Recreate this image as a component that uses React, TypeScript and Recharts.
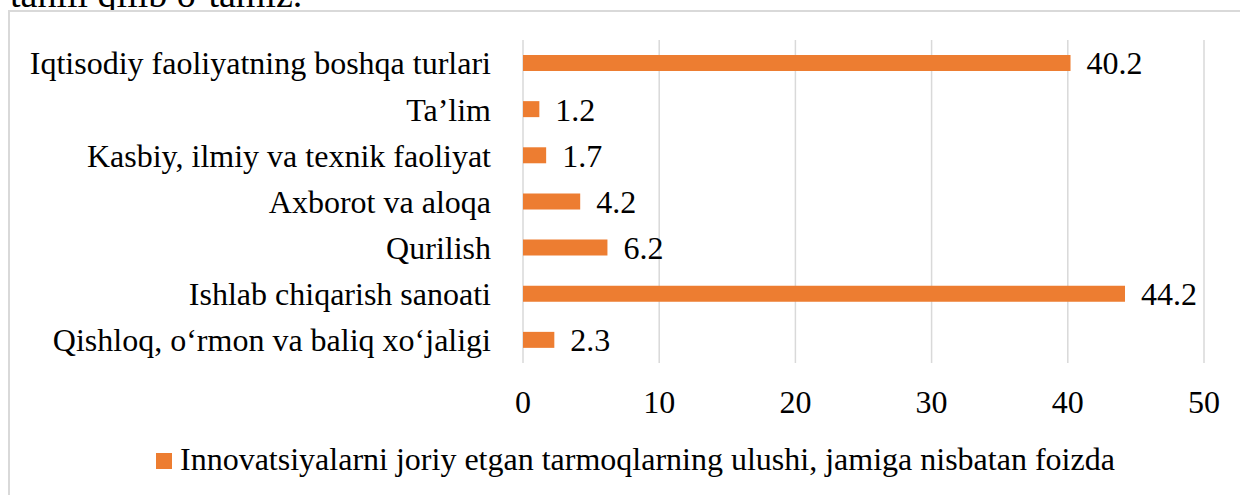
import React from "react";
import {
  BarChart,
  Bar,
  XAxis,
  YAxis,
  CartesianGrid,
  LabelList,
  Legend,
} from "recharts";

const categories = [
  "Iqtisodiy faoliyatning boshqa turlari",
  "Ta’lim",
  "Kasbiy, ilmiy va texnik faoliyat",
  "Axborot va aloqa",
  "Qurilish",
  "Ishlab chiqarish sanoati",
  "Qishloq, o‘rmon va baliq xo‘jaligi",
];

const shares = [40.2, 1.2, 1.7, 4.2, 6.2, 44.2, 2.3];

const xTicks = [0, 10, 20, 30, 40, 50];

const seriesName =
  "Innovatsiyalarni joriy etgan tarmoqlarning ulushi, jamiga nisbatan foizda";

const data = categories.map((name, i) => ({ name, value: shares[i] }));

const FONT = "Liberation Serif, Times New Roman, serif";
const BAR_COLOR = "#ED7D31";

const LegendContent = () => (
  <div
    style={{
      position: "relative",
      height: 40,
      fontFamily: FONT,
      fontSize: 32,
      color: "#000",
    }}
  >
    <span
      style={{
        position: "absolute",
        left: 0,
        top: 12,
        width: 16,
        height: 16,
        background: BAR_COLOR,
      }}
    />
    <span
      style={{
        position: "absolute",
        left: 24,
        top: 0,
        lineHeight: "36px",
        whiteSpace: "nowrap",
      }}
    >
      {seriesName}
    </span>
  </div>
);

export default function App() {
  return (
    <div
      style={{
        position: "absolute",
        left: 0,
        top: 0,
        width: 1240,
        height: 495,
        overflow: "hidden",
        background: "#fff",
      }}
    >
      <svg
        width={1240}
        height={30}
        style={{ position: "absolute", left: 0, top: 0 }}
      >
        <text x={10} y={7} fontFamily={FONT} fontSize={38} fill="#000">
          tahlil qilib o‘tamiz.
        </text>
      </svg>
      <div
        style={{
          position: "absolute",
          left: 8,
          top: 10,
          width: 1300,
          height: 600,
          border: "2px solid #d9d9d9",
          boxSizing: "border-box",
          background: "#fff",
        }}
      />
      <div style={{ position: "absolute", left: 0, top: 0 }}>
        <BarChart
          width={1240}
          height={495}
          data={data}
          layout="vertical"
          margin={{ top: 40, right: 36, bottom: 0, left: 0 }}
          barSize={16}
        >
          <CartesianGrid
            horizontal={false}
            stroke="#d9d9d9"
            strokeWidth={1.5}
          />
          <XAxis
            type="number"
            domain={[0, 50]}
            ticks={xTicks}
            axisLine={false}
            tickLine={false}
            tickMargin={21}
            height={132}
            interval={0}
            tick={{ fontFamily: FONT, fontSize: 32, fill: "#000" }}
          />
          <YAxis
            type="category"
            dataKey="name"
            width={523}
            axisLine={false}
            tickLine={false}
            tickMargin={26}
            interval={0}
            tick={{ fontFamily: FONT, fontSize: 32, fill: "#000" }}
          />
          <Legend
            layout="horizontal"
            verticalAlign="middle"
            align="center"
            wrapperStyle={{ top: 441, left: 156, width: 1000 }}
            content={<LegendContent />}
          />
          <Bar
            dataKey="value"
            name={seriesName}
            fill={BAR_COLOR}
            isAnimationActive={false}
          >
            <LabelList
              dataKey="value"
              position="right"
              offset={16}
              fill="#000"
              fontFamily={FONT}
              fontSize={32}
            />
          </Bar>
        </BarChart>
      </div>
    </div>
  );
}
